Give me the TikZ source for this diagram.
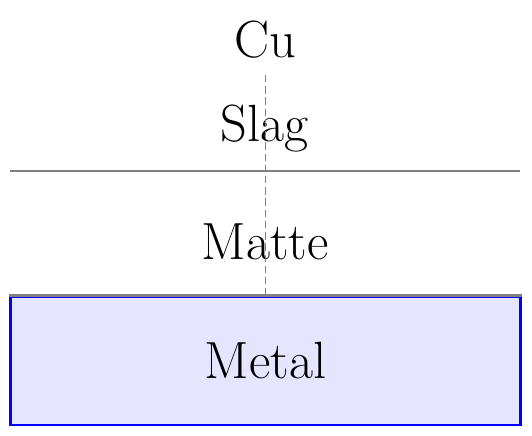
\documentclass[tikz,border=0pt]{standalone}
\usepackage{tikz}
\usetikzlibrary{positioning}

\begin{document}
\begin{tikzpicture}[font=\fontsize{28}{34}\selectfont]
    \useasboundingbox (0,0) rectangle (10,8.177);
    % 金属层
    \node[draw=blue, line width=1.4pt, fill=blue!10, rectangle, minimum width=9.59cm, minimum height=2.406cm, inner sep=0pt] (metal) at (4.99,1.391) {Metal};
    % 相界面
    \coordinate (slagL) at (0.197,4.962);
    \coordinate (slagR) at (9.78,4.962);
    \draw[line width=1.4pt, gray] (slagL) -- (slagR);
    \draw[line width=1.4pt, gray] (metal.north west) -- (metal.north east);
    % 各相标签
    \node (cu) at (4.98,7.43) {Cu};
    \node (slag) at (4.98,5.77) {Slag};
    \node (matte) at (4.98,3.63) {Matte};
    \coordinate (top) at (4.98,6.767);
    \draw[gray, dash pattern=on 4pt off 2pt] (top) -- (top |- metal.north);
\end{tikzpicture}
\end{document}
